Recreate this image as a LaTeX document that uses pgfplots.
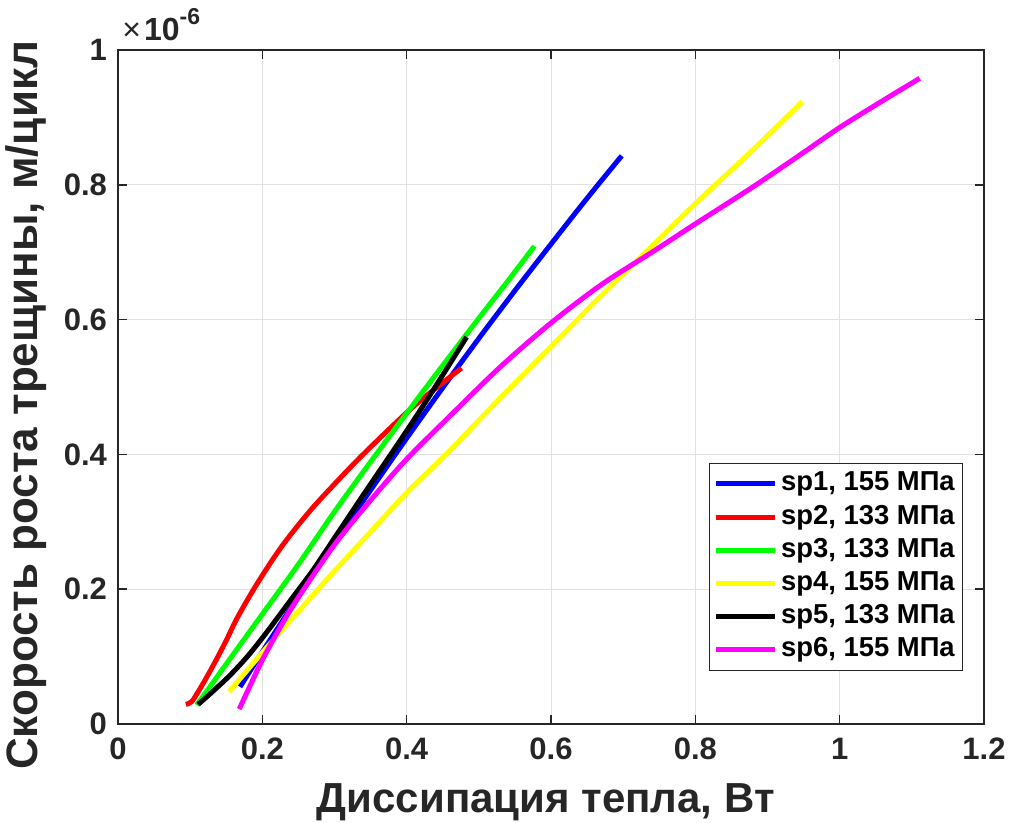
\documentclass[border=0pt]{standalone}
\usepackage{pgfplots}
\pgfplotsset{compat=1.18}
\usepackage{fontspec}
\setmainfont{Liberation Sans}
\definecolor{axc}{RGB}{38,38,38}
\definecolor{gridc}{RGB}{225,225,225}
\definecolor{cblue}{RGB}{0,0,255}
\definecolor{cred}{RGB}{255,0,0}
\definecolor{cgreen}{RGB}{0,255,0}
\definecolor{cyellow}{RGB}{255,255,0}
\definecolor{cmag}{RGB}{255,0,255}
\begin{document}
\begin{tikzpicture}
\begin{axis}[
 scale only axis, width=433pt, height=337pt,
 xmin=0, xmax=1.2, ymin=0, ymax=1,
 xtick={0,0.2,0.4,0.6,0.8,1,1.2}, ytick={0,0.2,0.4,0.6,0.8,1},
 xticklabels={0,0.2,0.4,0.6,0.8,1,1.2},
 yticklabels={0,0.2,0.4,0.6,0.8,1},
 grid=major, major grid style={gridc, line width=0.5pt},
 axis line style={axc, line width=0.8pt},
 tick style={axc, line width=0.8pt}, major tick length=4.5pt,
 ticklabel style={font=\bfseries\fontsize{15.5}{15.5}\selectfont, text=axc},
 xticklabel style={yshift=-3.5pt},
 yticklabel style={xshift=-2pt},
 xlabel={Диссипация тепла, Вт}, ylabel={Скорость роста трещины, м/цикл},
 xlabel style={font=\bfseries\fontsize{21}{21}\selectfont, text=axc, at={(ticklabel cs:0.494)}, yshift=-5pt},
 ylabel style={font=\bfseries\fontsize{22}{22}\selectfont, text=axc, at={(ticklabel cs:0.473)}, yshift=2pt},
 legend style={at={(0.9757,0.0786)}, anchor=south east, draw=axc, line width=0.6pt,
   font=\bfseries\fontsize{13.7}{13.7}\selectfont, text=black, inner sep=2pt,
   nodes={inner sep=1.8pt, text height=10pt, text depth=3pt}, row sep=0pt},
 legend cell align=left,
 legend image code/.code={\draw[#1] (0pt,0pt) -- (29.5pt,0pt);},
 every axis plot/.append style={line width=2.5pt, smooth},
]
\addplot[cblue] coordinates {(0.169,0.055)(0.20,0.107)(0.25,0.189)(0.30,0.269)(0.35,0.347)(0.40,0.424)(0.45,0.499)(0.50,0.572)(0.55,0.643)(0.60,0.712)(0.65,0.780)(0.698,0.843)};
\addlegendentry{sp1, 155 МПа}
\addplot[cred] coordinates {(0.094,0.029)(0.102,0.033)(0.11,0.046)(0.12,0.064)(0.135,0.093)(0.15,0.124)(0.165,0.157)(0.1875,0.199)(0.21,0.237)(0.23,0.268)(0.255,0.302)(0.28,0.333)(0.335,0.395)(0.40,0.462)(0.44,0.498)(0.476,0.528)};
\addlegendentry{sp2, 133 МПа}
\addplot[cgreen] coordinates {(0.109,0.028)(0.15,0.089)(0.20,0.163)(0.25,0.237)(0.30,0.315)(0.35,0.389)(0.40,0.461)(0.45,0.532)(0.50,0.602)(0.54,0.657)(0.577,0.709)};
\addlegendentry{sp3, 133 МПа}
\addplot[cyellow] coordinates {(0.154,0.048)(0.20,0.106)(0.25,0.167)(0.30,0.227)(0.35,0.285)(0.40,0.343)(0.46,0.406)(0.53,0.484)(0.60,0.560)(0.67,0.636)(0.74,0.709)(0.80,0.772)(0.876,0.848)(0.948,0.923)};
\addlegendentry{sp4, 155 МПа}
\addplot[black] coordinates {(0.111,0.029)(0.13,0.047)(0.155,0.072)(0.18,0.101)(0.206,0.136)(0.238,0.182)(0.27,0.228)(0.30,0.276)(0.345,0.348)(0.39,0.419)(0.43,0.484)(0.483,0.574)};
\addlegendentry{sp5, 133 МПа}
\addplot[cmag] coordinates {(0.168,0.022)(0.18,0.050)(0.20,0.095)(0.225,0.144)(0.25,0.188)(0.30,0.266)(0.35,0.332)(0.40,0.393)(0.46,0.457)(0.53,0.530)(0.60,0.595)(0.67,0.652)(0.74,0.700)(0.80,0.742)(0.88,0.797)(0.95,0.848)(1.00,0.885)(1.06,0.925)(1.111,0.958)};
\addlegendentry{sp6, 155 МПа}
\coordinate (tl) at (rel axis cs:0,1);
\coordinate (bl) at (rel axis cs:-0.1363,-0.1469);
\coordinate (tr) at (rel axis cs:1.0312,1.0742);
\end{axis}
\node[anchor=base west, inner sep=0pt, text=axc] at ([xshift=2pt,yshift=4.5pt]tl) {\fontsize{16}{16}\selectfont ×\hspace{1.5pt}\textbf{10}\raisebox{8pt}{\fontsize{11.5}{11.5}\selectfont\bfseries -6}};
\pgfresetboundingbox
\path[use as bounding box] (bl) rectangle (tr);
\end{tikzpicture}
\end{document}
